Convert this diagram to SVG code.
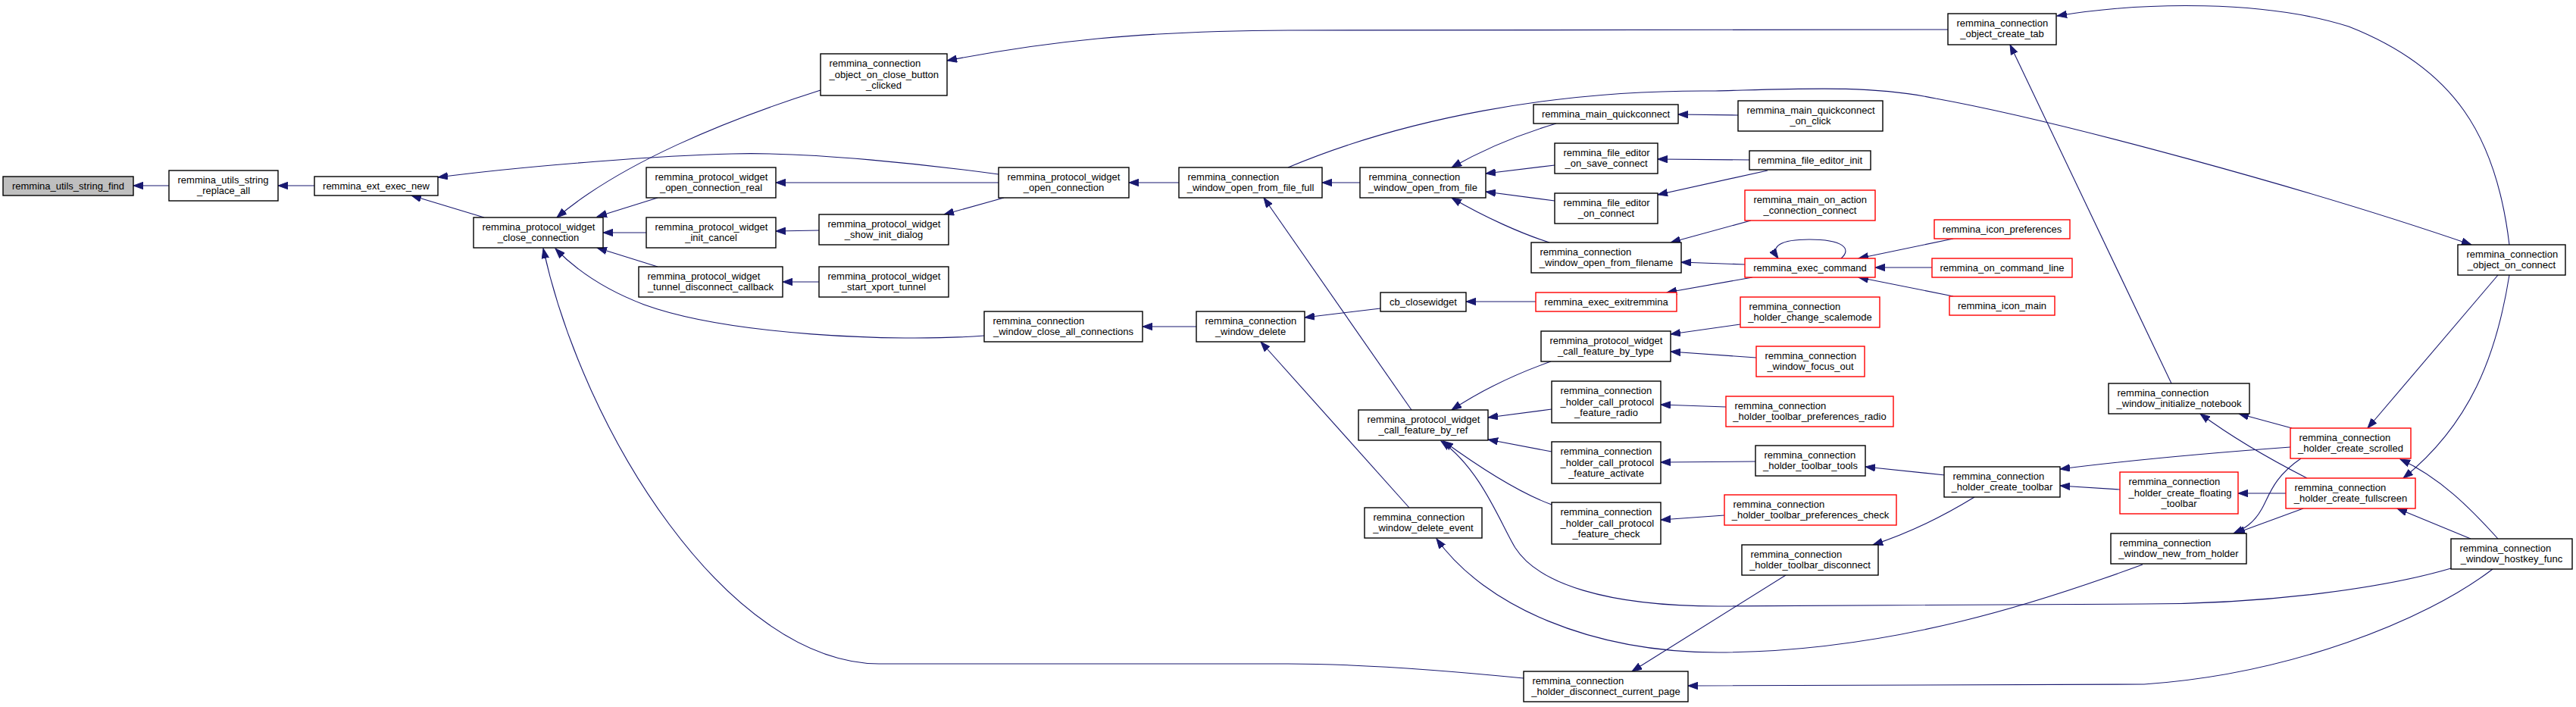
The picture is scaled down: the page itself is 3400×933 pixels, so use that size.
<svg xmlns="http://www.w3.org/2000/svg" width="3400" height="933" viewBox="0 0 3400 933">
<style>
.bg{fill:#ffffff}
.n{fill:#ffffff;stroke:#000000;stroke-width:1.4}
.r{fill:#ffffff;stroke:#ff0000;stroke-width:1.4}
.g{fill:#bfbfbf;stroke:#000000;stroke-width:1.4}
text{font-family:"Liberation Sans",Arial,Helvetica,sans-serif;font-size:13px;fill:#000000}
.c{text-anchor:middle}
.l{text-anchor:start}
.e path{fill:none;stroke:#191970;stroke-width:1.1;marker-end:url(#ah)}
</style>
<defs>
<marker id="ah" markerUnits="userSpaceOnUse" markerWidth="14" markerHeight="10" refX="13" refY="5" orient="auto">
<path d="M0,0.3 L13,5 L0,9.7 Z" fill="#191970" stroke="#191970" stroke-width="1"/>
</marker>
</defs>
<rect class="bg" x="0" y="0" width="3400" height="933"/>
<g id="edges" class="e">
<path d="M223,245 L176,245"/>
<path d="M415,245 L367,245"/>
<path d="M639,287 L543,258"/>
<path d="M1083,119 C960,158 820,215 735,287"/>
<path d="M1318,230 C1230,218 1070,200 966,203 C880,205 700,218 578,234"/>
<path d="M868,261 L788,286"/>
<path d="M853,307 L796,307"/>
<path d="M868,352 L788,327"/>
<path d="M1081,304 L1024,305"/>
<path d="M1081,372 L1033,372"/>
<path d="M1299,443 C1180,452 960,442 850,402 C800,383 760,356 733,328"/>
<path d="M2011,895 C1880,882 1780,876 1700,876 L1160,876 C960,874 770,570 717,328"/>
<path d="M1318,241 L1024,241"/>
<path d="M1325,261 L1246,283"/>
<path d="M1556,241 L1490,241"/>
<path d="M1579,431 L1508,431"/>
<path d="M1863,541 L1668,261"/>
<path d="M1860,670 L1664,451"/>
<path d="M2571,39 L1700,40 C1500,41 1380,55 1250,80"/>
<path d="M1795,241 L1745,241"/>
<path d="M2054,163 C2010,176 1960,196 1916,221"/>
<path d="M2052,218 L1961,229"/>
<path d="M2052,265 L1961,253"/>
<path d="M2045,320 C2010,309 1960,287 1916,261"/>
<path d="M2027,398 L1935,398"/>
<path d="M1822,407 L1722,419"/>
<path d="M1700,221 C1850,158 2050,118 2264,120 C2380,117 2470,112 2555,130 C2720,160 3050,250 3262,323"/>
<path d="M3312,323 C3295,180 3240,90 3100,35 C2990,0 2830,2 2715,21"/>
<path d="M3297,363 L3125,565"/>
<path d="M3312,363 C3295,470 3260,560 3172,631"/>
<path d="M2294,152 L2215,151"/>
<path d="M2309,211 L2188,210"/>
<path d="M2333,225 L2188,257"/>
<path d="M2311,291 L2205,320"/>
<path d="M2303,349 L2219,346"/>
<path d="M2313,366 L2200,386"/>
<path d="M2430,341 C2445,328 2432,316 2388,316 C2350,316 2336,325 2347,341"/>
<path d="M2578,315 L2453,341"/>
<path d="M2550,353 L2475,353"/>
<path d="M2578,391 L2453,366"/>
<path d="M2297,428 L2205,441"/>
<path d="M2318,472 L2205,464"/>
<path d="M2866,506 L2653,59"/>
<path d="M2047,477 C2010,490 1960,512 1916,541"/>
<path d="M2048,540 L1964,551"/>
<path d="M2048,596 L1964,580"/>
<path d="M2048,666 C2010,652 1960,622 1905,582"/>
<path d="M3235,750 C3150,775 3000,797 2830,797 L2268,800 C2120,800 2030,770 2000,723 C1980,690 1955,620 1902,582"/>
<path d="M2828,745 C2700,792 2500,860 2268,861 C2100,861 1960,800 1896,711"/>
<path d="M3290,751 C3200,820 3020,890 2830,903 L2228,905"/>
<path d="M2357,759 L2154,886"/>
<path d="M2278,537 L2192,534"/>
<path d="M2317,609 L2192,610"/>
<path d="M2276,680 L2192,686"/>
<path d="M2567,627 L2462,616"/>
<path d="M2606,656 C2575,675 2530,700 2472,719"/>
<path d="M3023,590 C2900,599 2790,610 2719,619"/>
<path d="M2798,646 L2719,641"/>
<path d="M3025,565 L2955,546"/>
<path d="M3045,631 C3000,608 2950,580 2904,546"/>
<path d="M3017,651 L2954,651"/>
<path d="M3037,605 C3000,630 2995,655 2985,672 C2975,690 2962,698 2948,704"/>
<path d="M3040,671 L2950,704"/>
<path d="M3297,711 C3260,670 3220,630 3168,606"/>
<path d="M3261,711 L3164,671"/>
</g>
<g id="n_find"><rect class="g" x="4" y="233" width="172" height="25"/><text class="c" x="90" y="249.5">remmina_utils_string_find</text></g>
<g id="n_replace"><rect class="n" x="223" y="225" width="144" height="40"/><text class="l" x="234.5" y="241.6">remmina_utils_string</text><text class="c" x="295" y="256.4">_replace_all</text></g>
<g id="n_ext"><rect class="n" x="415" y="233" width="163" height="25"/><text class="c" x="496.5" y="249.5">remmina_ext_exec_new</text></g>
<g id="n_close"><rect class="n" x="625" y="287" width="171" height="40"/><text class="l" x="636.5" y="303.6">remmina_protocol_widget</text><text class="c" x="710.5" y="318.4">_close_connection</text></g>
<g id="n_open_real"><rect class="n" x="853" y="221" width="171" height="40"/><text class="l" x="864.5" y="237.6">remmina_protocol_widget</text><text class="c" x="938.5" y="252.4">_open_connection_real</text></g>
<g id="n_init_cancel"><rect class="n" x="853" y="287" width="171" height="40"/><text class="l" x="864.5" y="303.6">remmina_protocol_widget</text><text class="c" x="938.5" y="318.4">_init_cancel</text></g>
<g id="n_tunnel_cb"><rect class="n" x="843" y="352" width="190" height="40"/><text class="l" x="854.5" y="368.6">remmina_protocol_widget</text><text class="c" x="938" y="383.4">_tunnel_disconnect_callback</text></g>
<g id="n_close_btn"><rect class="n" x="1083" y="71" width="167" height="55"/><text class="l" x="1094.5" y="87.7">remmina_connection</text><text class="l" x="1094.5" y="102.5">_object_on_close_button</text><text class="c" x="1166.5" y="117.3">_clicked</text></g>
<g id="n_show_init"><rect class="n" x="1081" y="283" width="171" height="40"/><text class="l" x="1092.5" y="299.6">remmina_protocol_widget</text><text class="c" x="1166.5" y="314.4">_show_init_dialog</text></g>
<g id="n_xport"><rect class="n" x="1081" y="352" width="171" height="40"/><text class="l" x="1092.5" y="368.6">remmina_protocol_widget</text><text class="c" x="1166.5" y="383.4">_start_xport_tunnel</text></g>
<g id="n_open_conn"><rect class="n" x="1318" y="221" width="172" height="40"/><text class="l" x="1329.5" y="237.6">remmina_protocol_widget</text><text class="c" x="1404" y="252.4">_open_connection</text></g>
<g id="n_close_all"><rect class="n" x="1299" y="411" width="209" height="40"/><text class="l" x="1310.5" y="427.6">remmina_connection</text><text class="c" x="1403.5" y="442.4">_window_close_all_connections</text></g>
<g id="n_file_full"><rect class="n" x="1556" y="221" width="189" height="40"/><text class="l" x="1567.5" y="237.6">remmina_connection</text><text class="c" x="1650.5" y="252.4">_window_open_from_file_full</text></g>
<g id="n_delete"><rect class="n" x="1579" y="411" width="143" height="40"/><text class="l" x="1590.5" y="427.6">remmina_connection</text><text class="c" x="1650.5" y="442.4">_window_delete</text></g>
<g id="n_open_file"><rect class="n" x="1795" y="221" width="166" height="40"/><text class="l" x="1806.5" y="237.6">remmina_connection</text><text class="c" x="1878" y="252.4">_window_open_from_file</text></g>
<g id="n_by_ref"><rect class="n" x="1793" y="541" width="171" height="40"/><text class="l" x="1804.5" y="557.6">remmina_protocol_widget</text><text class="c" x="1878.5" y="572.4">_call_feature_by_ref</text></g>
<g id="n_delete_event"><rect class="n" x="1801" y="670" width="155" height="40"/><text class="l" x="1812.5" y="686.6">remmina_connection</text><text class="c" x="1878.5" y="701.4">_window_delete_event</text></g>
<g id="n_cb_close"><rect class="n" x="1822" y="386" width="113" height="25"/><text class="c" x="1878.5" y="402.5">cb_closewidget</text></g>
<g id="n_quick"><rect class="n" x="2024" y="138" width="191" height="25"/><text class="c" x="2119.5" y="154.5">remmina_main_quickconnect</text></g>
<g id="n_save_conn"><rect class="n" x="2052" y="189" width="136" height="40"/><text class="l" x="2063.5" y="205.6">remmina_file_editor</text><text class="c" x="2120" y="220.4">_on_save_connect</text></g>
<g id="n_fe_conn"><rect class="n" x="2052" y="255" width="136" height="40"/><text class="l" x="2063.5" y="271.6">remmina_file_editor</text><text class="c" x="2120" y="286.4">_on_connect</text></g>
<g id="n_from_filename"><rect class="n" x="2021" y="320" width="198" height="40"/><text class="l" x="2032.5" y="336.6">remmina_connection</text><text class="c" x="2120" y="351.4">_window_open_from_filename</text></g>
<g id="n_exit"><rect class="r" x="2027" y="386" width="186" height="25"/><text class="c" x="2120" y="402.5">remmina_exec_exitremmina</text></g>
<g id="n_by_type"><rect class="n" x="2034" y="437" width="171" height="40"/><text class="l" x="2045.5" y="453.6">remmina_protocol_widget</text><text class="c" x="2119.5" y="468.4">_call_feature_by_type</text></g>
<g id="n_radio"><rect class="n" x="2048" y="503" width="144" height="55"/><text class="l" x="2059.5" y="519.7">remmina_connection</text><text class="l" x="2059.5" y="534.5">_holder_call_protocol</text><text class="c" x="2120" y="549.3">_feature_radio</text></g>
<g id="n_activate"><rect class="n" x="2048" y="583" width="144" height="55"/><text class="l" x="2059.5" y="599.7">remmina_connection</text><text class="l" x="2059.5" y="614.5">_holder_call_protocol</text><text class="c" x="2120" y="629.3">_feature_activate</text></g>
<g id="n_check"><rect class="n" x="2048" y="663" width="144" height="55"/><text class="l" x="2059.5" y="679.7">remmina_connection</text><text class="l" x="2059.5" y="694.5">_holder_call_protocol</text><text class="c" x="2120" y="709.3">_feature_check</text></g>
<g id="n_disc_page"><rect class="n" x="2011" y="886" width="217" height="40"/><text class="l" x="2022.5" y="902.6">remmina_connection</text><text class="c" x="2119.5" y="917.4">_holder_disconnect_current_page</text></g>
<g id="n_on_click"><rect class="n" x="2294" y="133" width="191" height="40"/><text class="l" x="2305.5" y="149.6">remmina_main_quickconnect</text><text class="c" x="2389.5" y="164.4">_on_click</text></g>
<g id="n_fe_init"><rect class="n" x="2309" y="199" width="160" height="25"/><text class="c" x="2389" y="215.5">remmina_file_editor_init</text></g>
<g id="n_on_action"><rect class="r" x="2303" y="251" width="172" height="40"/><text class="l" x="2314.5" y="267.6">remmina_main_on_action</text><text class="c" x="2389" y="282.4">_connection_connect</text></g>
<g id="n_exec_cmd"><rect class="r" x="2303" y="341" width="172" height="25"/><text class="c" x="2389" y="357.5">remmina_exec_command</text></g>
<g id="n_scalemode"><rect class="r" x="2297" y="392" width="184" height="40"/><text class="l" x="2308.5" y="408.6">remmina_connection</text><text class="c" x="2389" y="423.4">_holder_change_scalemode</text></g>
<g id="n_focus_out"><rect class="r" x="2318" y="457" width="143" height="40"/><text class="l" x="2329.5" y="473.6">remmina_connection</text><text class="c" x="2389.5" y="488.4">_window_focus_out</text></g>
<g id="n_tb_radio"><rect class="r" x="2278" y="523" width="221" height="40"/><text class="l" x="2289.5" y="539.6">remmina_connection</text><text class="c" x="2388.5" y="554.4">_holder_toolbar_preferences_radio</text></g>
<g id="n_tb_tools"><rect class="n" x="2317" y="588" width="145" height="40"/><text class="l" x="2328.5" y="604.6">remmina_connection</text><text class="c" x="2389.5" y="619.4">_holder_toolbar_tools</text></g>
<g id="n_tb_check"><rect class="r" x="2276" y="653" width="227" height="40"/><text class="l" x="2287.5" y="669.6">remmina_connection</text><text class="c" x="2389.5" y="684.4">_holder_toolbar_preferences_check</text></g>
<g id="n_tb_disc"><rect class="n" x="2299" y="719" width="180" height="40"/><text class="l" x="2310.5" y="735.6">remmina_connection</text><text class="c" x="2389" y="750.4">_holder_toolbar_disconnect</text></g>
<g id="n_create_tab"><rect class="n" x="2571" y="18" width="143" height="41"/><text class="l" x="2582.5" y="34.6">remmina_connection</text><text class="c" x="2642.5" y="49.4">_object_create_tab</text></g>
<g id="n_icon_pref"><rect class="r" x="2553" y="290" width="179" height="25"/><text class="c" x="2642.5" y="306.5">remmina_icon_preferences</text></g>
<g id="n_cmdline"><rect class="r" x="2550" y="341" width="185" height="25"/><text class="c" x="2642.5" y="357.5">remmina_on_command_line</text></g>
<g id="n_icon_main"><rect class="r" x="2573" y="391" width="139" height="25"/><text class="c" x="2642.5" y="407.5">remmina_icon_main</text></g>
<g id="n_create_toolbar"><rect class="n" x="2566" y="616" width="153" height="40"/><text class="l" x="2577.5" y="632.6">remmina_connection</text><text class="c" x="2642.5" y="647.4">_holder_create_toolbar</text></g>
<g id="n_init_nb"><rect class="n" x="2783" y="506" width="186" height="40"/><text class="l" x="2794.5" y="522.6">remmina_connection</text><text class="c" x="2876" y="537.4">_window_initialize_notebook</text></g>
<g id="n_floating"><rect class="r" x="2798" y="623" width="156" height="55"/><text class="l" x="2809.5" y="639.7">remmina_connection</text><text class="l" x="2809.5" y="654.5">_holder_create_floating</text><text class="c" x="2876" y="669.3">_toolbar</text></g>
<g id="n_new_holder"><rect class="n" x="2786" y="704" width="179" height="40"/><text class="l" x="2797.5" y="720.6">remmina_connection</text><text class="c" x="2875.5" y="735.4">_window_new_from_holder</text></g>
<g id="n_scrolled"><rect class="r" x="3023" y="565" width="159" height="40"/><text class="l" x="3034.5" y="581.6">remmina_connection</text><text class="c" x="3102.5" y="596.4">_holder_create_scrolled</text></g>
<g id="n_fullscreen"><rect class="r" x="3017" y="631" width="171" height="40"/><text class="l" x="3028.5" y="647.6">remmina_connection</text><text class="c" x="3102.5" y="662.4">_holder_create_fullscreen</text></g>
<g id="n_hostkey"><rect class="n" x="3235" y="711" width="160" height="40"/><text class="l" x="3246.5" y="727.6">remmina_connection</text><text class="c" x="3315" y="742.4">_window_hostkey_func</text></g>
<g id="n_on_connect"><rect class="n" x="3244" y="323" width="142" height="40"/><text class="l" x="3255.5" y="339.6">remmina_connection</text><text class="c" x="3315" y="354.4">_object_on_connect</text></g>
</svg>
